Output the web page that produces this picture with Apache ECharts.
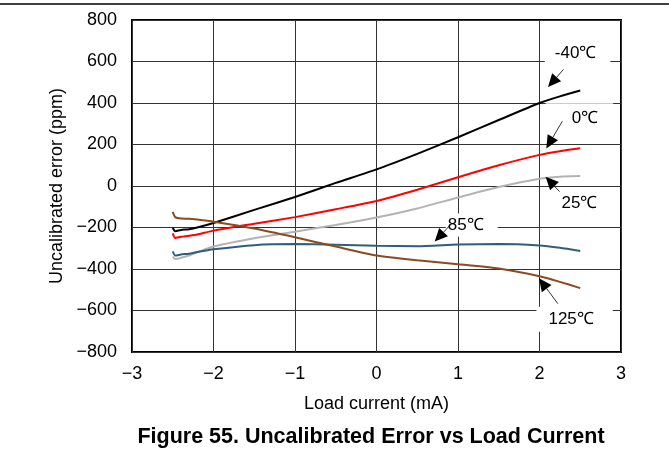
<!DOCTYPE html>
<html>
<head>
<meta charset="utf-8">
<script src="https://cdn.jsdelivr.net/npm/echarts@6/dist/echarts.min.js"></script>
<style>
html,body{margin:0;padding:0;background:#fff;}
#c{width:669px;height:461px;}
</style>
</head>
<body>
<div id="c"></div>
<script>
// ---- data ----
var loadCurrent = [-2.5, -2.47, -2.4, -2.3, -2.2, -2.0, -1.5, -1.0, -0.5, 0, 0.5, 1.0, 1.5, 2.0, 2.25, 2.5];
var errM40  = [-200, -218, -212, -208, -200, -178, -115, -53, 15, 80, 155, 235, 318, 400, 432, 460];
var err0    = [-228, -250, -245, -240, -234, -215, -182, -150, -112, -72, -18, 42, 100, 150, 168, 182];
var err25   = [-340, -352, -346, -335, -320, -292, -252, -220, -188, -152, -108, -55, -5, 35, 45, 48];
var err85   = [-315, -335, -330, -326, -318, -305, -285, -280, -283, -288, -290, -282, -280, -287, -298, -313];
var err125  = [-125, -150, -157, -158, -162, -172, -205, -247, -292, -335, -358, -377, -398, -435, -462, -492];
var seriesNames = ['-40℃', '0℃', '25℃', '85℃', '125℃'];
var xTicks = [-3, -2, -1, 0, 1, 2, 3];
var yTicks = [-800, -600, -400, -200, 0, 200, 400, 600, 800];

// ---- styling / layout (not data) ----
var colors = ['#000000', '#ff0000', '#b3b3b3', '#2f5f78', '#8a4a22'];
var FONT = 'Liberation Sans, Arial, sans-serif';
function pair(xs, ys){ return xs.map(function(x,i){ return [x, ys[i]]; }); }
function fmt(v){ return String(v).replace('-', '\u2212'); }

var chart = echarts.init(document.getElementById('c'), null, {renderer:'canvas'});
var allY = [errM40, err0, err25, err85, err125];

chart.setOption({
  animation:false,
  backgroundColor:'#fff',
  title:{
    text:'Figure 55. Uncalibrated Error vs Load Current',
    left:366, top:421, textAlign:'center',
    textStyle:{fontFamily:FONT, fontWeight:'bold', fontSize:21.5, color:'#000'}
  },
  grid:{left:132, right:48, top:20, bottom:109, show:true, borderColor:'#000', borderWidth:2, backgroundColor:'transparent'},
  xAxis:{
    type:'value', min:xTicks[0], max:xTicks[xTicks.length-1], interval:1,
    name:'Load current (mA)', nameLocation:'middle', nameGap:43,
    nameTextStyle:{fontFamily:FONT, fontSize:18, color:'#000'},
    axisLine:{show:false}, axisTick:{show:false},
    axisLabel:{fontFamily:FONT, fontSize:18, color:'#000', margin:13, formatter:fmt},
    splitLine:{show:true, lineStyle:{color:'#333', width:1}}
  },
  yAxis:{
    type:'value', min:yTicks[0], max:yTicks[yTicks.length-1], interval:200,
    name:'Uncalibrated error (ppm)', nameLocation:'middle', nameGap:63,
    nameTextStyle:{fontFamily:FONT, fontSize:18, color:'#000'},
    axisLine:{show:false}, axisTick:{show:false},
    axisLabel:{fontFamily:FONT, fontSize:18, color:'#000', margin:15, formatter:fmt},
    splitLine:{show:true, lineStyle:{color:'#333', width:1}}
  },
  series: allY.map(function(ys, i){
    return {
      name:seriesNames[i], type:'line', data:pair(loadCurrent, ys),
      showSymbol:false, smooth:0.2, z:3,
      lineStyle:{color:colors[i], width:2}
    };
  })
});

// ---- annotations (data-space anchors) ----
var annot = [
  {text:'-40℃', at:[2.467, 639],  pad:[4,14,4,10], tail:[2.295, 562],  tip:[2.105, 477]},
  {text:'0℃',   at:[2.49, 327],   pad:[9,15,4,26], tail:[2.28, 312],   tip:[2.083, 181]},
  {text:'25℃',  at:[2.49, -82],   pad:[3,6,3,6],   tail:[2.246, -27],  tip:[2.075, 45]},
  {text:'85℃',  at:[1.168, -188], pad:[3,14,3,2],  tail:[0.926, -179], tip:[0.714, -268]},
  {text:'125℃', at:[2.431, -642], pad:[4,19,4,12], tail:[2.225, -567], tip:[1.993, -444]}
];
var g = [];
g.push({type:'line', shape:{x1:0, y1:4, x2:669, y2:4}, style:{stroke:'#000', lineWidth:1.5}, z:10});
annot.forEach(function(a){
  var p = chart.convertToPixel({gridIndex:0}, a.at);
  g.push({type:'text', x:p[0], y:p[1], z:1,
    style:{text:a.text, fill:'#000', font:'17px ' + FONT, align:'center', verticalAlign:'middle',
      backgroundColor:'#fff', padding:a.pad}});
  var t = chart.convertToPixel({gridIndex:0}, a.tail);
  var h = chart.convertToPixel({gridIndex:0}, a.tip);
  var dx = h[0]-t[0], dy = h[1]-t[1], L = Math.sqrt(dx*dx+dy*dy);
  var ux = dx/L, uy = dy/L, hl = 13, hw = 6;
  var bx = h[0]-ux*hl, by = h[1]-uy*hl;
  g.push({type:'line', z:6, shape:{x1:t[0], y1:t[1], x2:bx, y2:by}, style:{stroke:'#000', lineWidth:0.8}});
  g.push({type:'polygon', z:6, shape:{points:[[h[0],h[1]],[bx-uy*hw, by+ux*hw],[bx+uy*hw, by-ux*hw]]}, style:{fill:'#000'}});
});
chart.setOption({graphic:g});
</script>
</body>
</html>
